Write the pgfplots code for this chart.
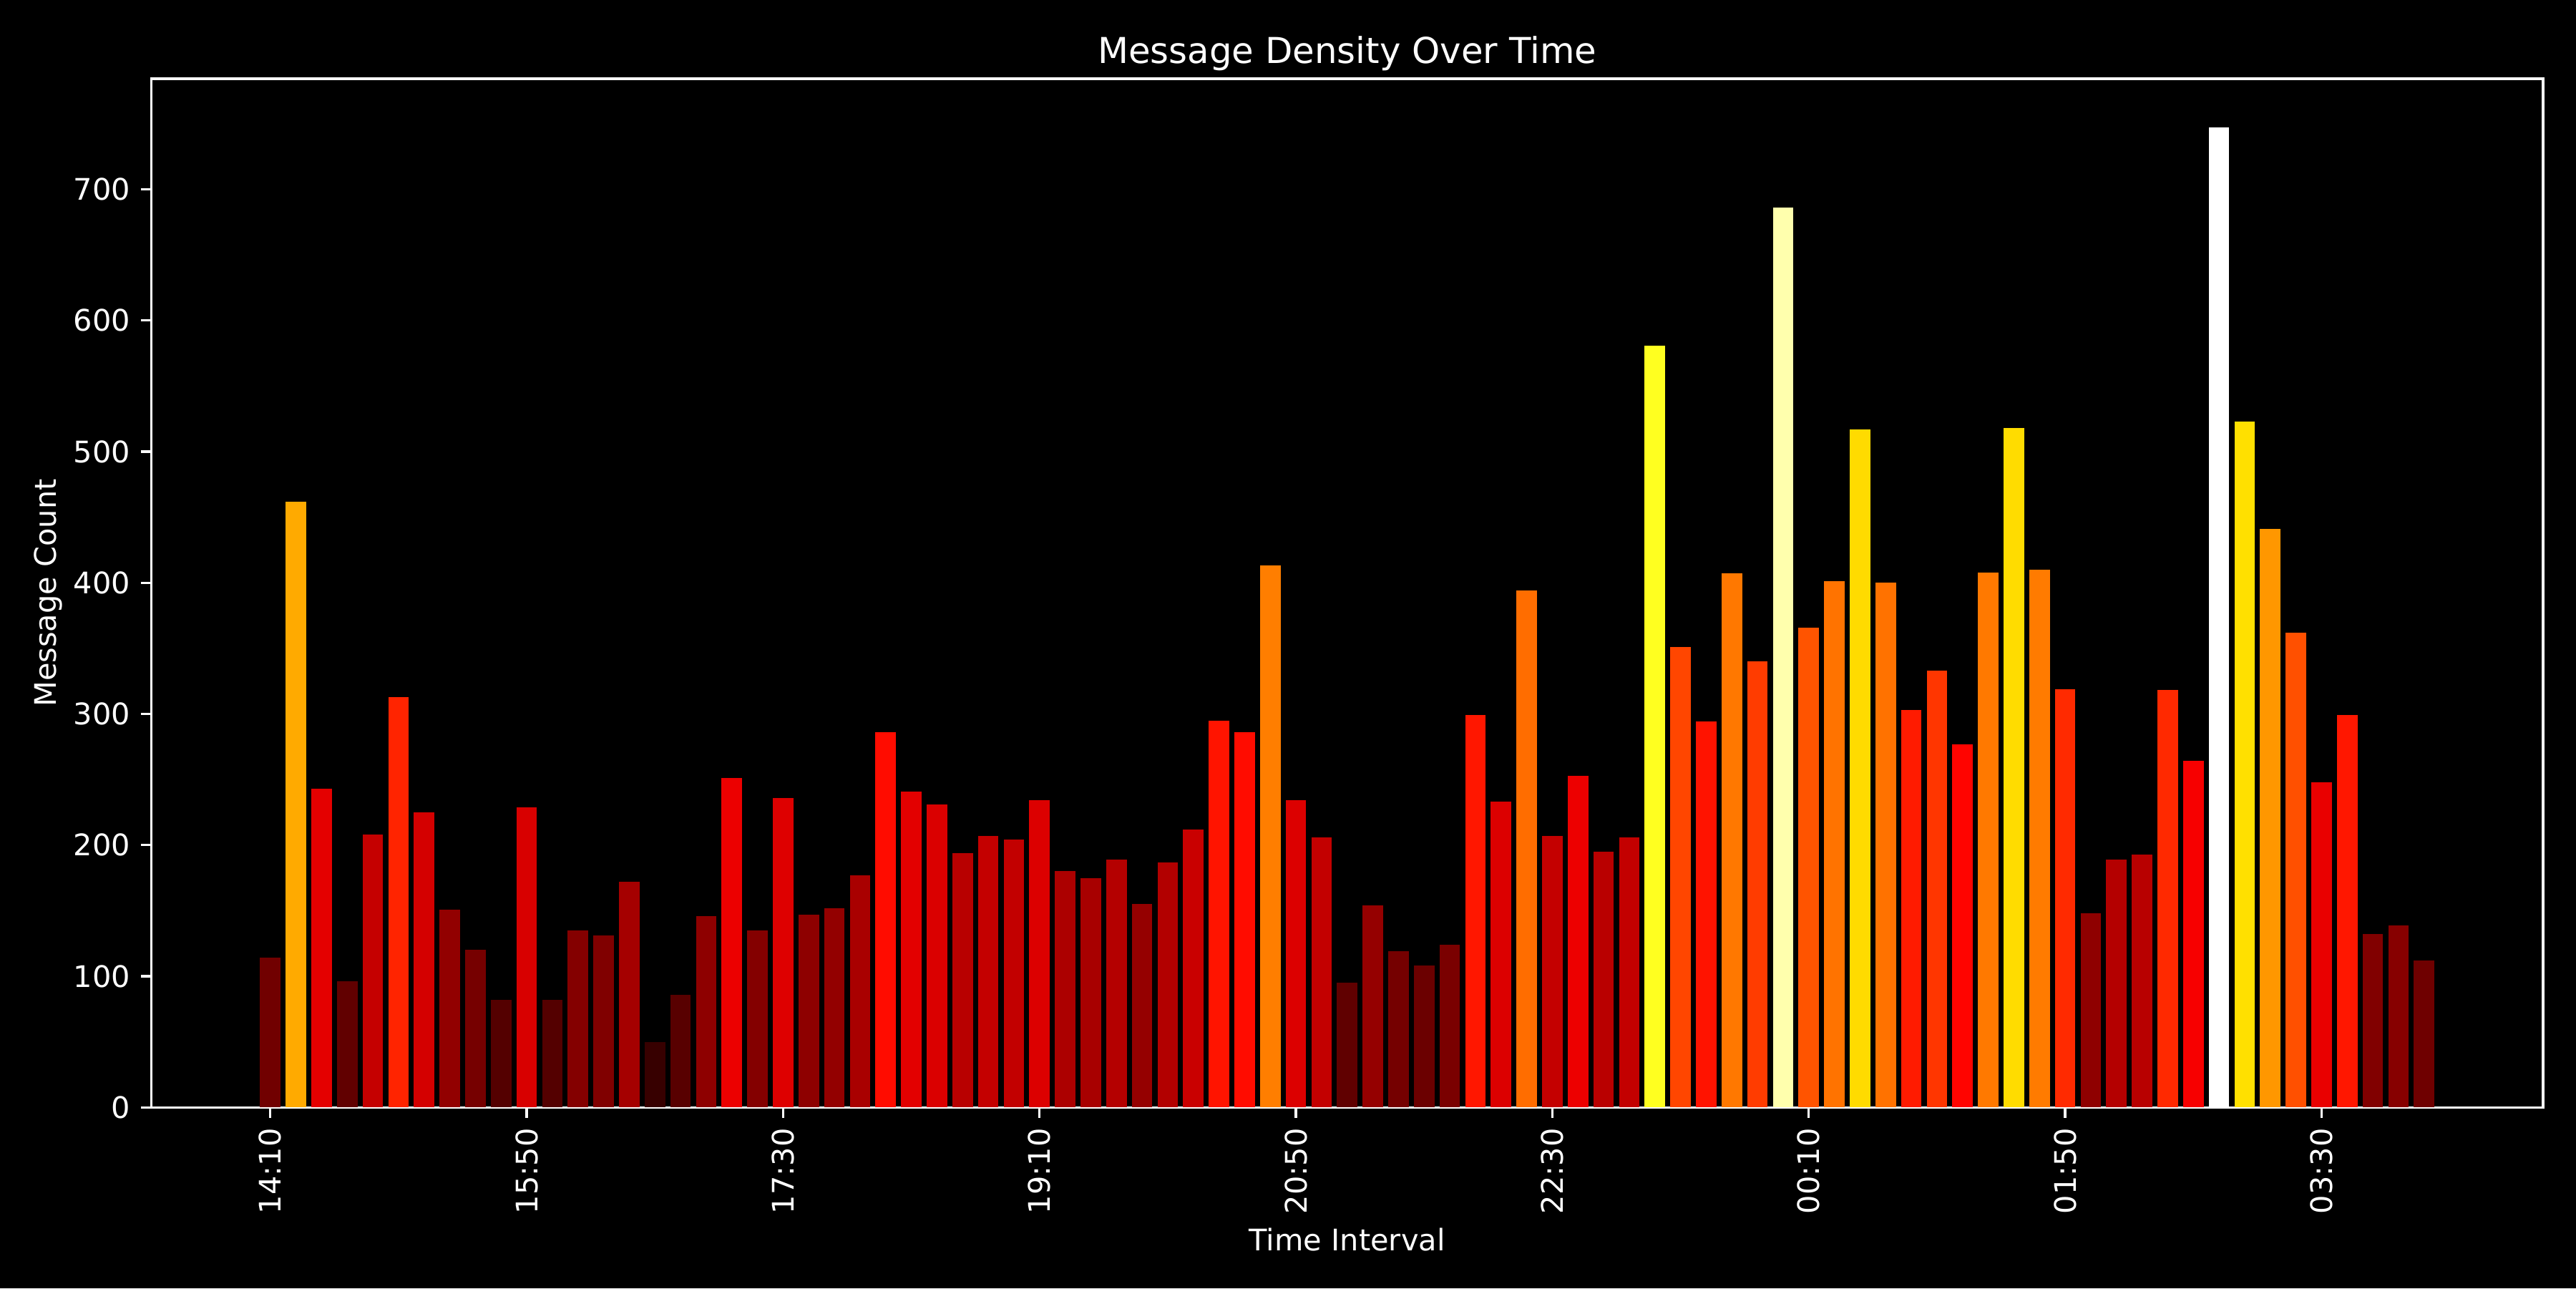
\documentclass[border=0pt]{standalone}
\usepackage{pgfplots}
\pgfplotsset{compat=1.18}
\usepackage{fontspec}
\setmainfont{DejaVu Sans}
% one bar: index, count, and its colour on matplotlib's "hot" map (count/747)
\newcommand{\B}[5]{\addplot[ybar, bar width=0.8, bar shift=0pt, draw=none, fill={rgb,1:red,#3;green,#4;blue,#5}] coordinates {(#1,#2)};}
\begin{document}
\begin{tikzpicture}
\fill[black] (-1.79cm,-2.14cm) rectangle (28.69cm,13.10cm);
\begin{axis}[
  at={(0,0)}, anchor=south west,
  scale only axis, width=28.30cm, height=12.17cm,
  xmin=-4.64, xmax=88.64, ymin=0, ymax=784.35,
  axis line style={white, line width=0.8pt},
  tick style={white, line width=0.8pt},
  major tick length=3.5pt,
  tick align=outside, tick pos=left,
  xtick={0,10,20,30,40,50,60,70,80},
  xticklabels={14:10,15:50,17:30,19:10,20:50,22:30,00:10,01:50,03:30},
  ytick={0,100,200,300,400,500,600,700},
  xticklabel style={rotate=90, anchor=east, font=\fontsize{10}{12}\selectfont, text=white},
  yticklabel style={font=\fontsize{10}{12}\selectfont, text=white},
  /pgf/number format/assume math mode=true,
  xlabel={Time Interval}, ylabel={Message Count},
  xlabel shift=-2pt, ylabel shift=-3pt,
  label style={font=\fontsize{10}{12}\selectfont, text=white},
  title={Message Density Over Time},
  title style={font=\fontsize{12}{14}\selectfont, text=white, yshift=-7pt},
]
\B{0}{114}{0.442}{0}{0}
\B{1}{462}{1}{0.665}{0}
\B{2}{243}{0.896}{0}{0}
\B{3}{96}{0.379}{0}{0}
\B{4}{208}{0.773}{0}{0}
\B{5}{313}{1}{0.142}{0}
\B{6}{225}{0.832}{0}{0}
\B{7}{151}{0.572}{0}{0}
\B{8}{120}{0.463}{0}{0}
\B{9}{82}{0.330}{0}{0}
\B{10}{229}{0.846}{0}{0}
\B{11}{82}{0.330}{0}{0}
\B{12}{135}{0.516}{0}{0}
\B{13}{131}{0.502}{0}{0}
\B{14}{172}{0.646}{0}{0}
\B{15}{50}{0.217}{0}{0}
\B{16}{86}{0.344}{0}{0}
\B{17}{146}{0.555}{0}{0}
\B{18}{251}{0.924}{0}{0}
\B{19}{135}{0.516}{0}{0}
\B{20}{236}{0.871}{0}{0}
\B{21}{147}{0.558}{0}{0}
\B{22}{152}{0.576}{0}{0}
\B{23}{177}{0.664}{0}{0}
\B{24}{286}{1}{0.047}{0}
\B{25}{241}{0.889}{0}{0}
\B{26}{231}{0.853}{0}{0}
\B{27}{194}{0.723}{0}{0}
\B{28}{207}{0.769}{0}{0}
\B{29}{204}{0.759}{0}{0}
\B{30}{234}{0.864}{0}{0}
\B{31}{180}{0.674}{0}{0}
\B{32}{175}{0.657}{0}{0}
\B{33}{189}{0.706}{0}{0}
\B{34}{155}{0.586}{0}{0}
\B{35}{187}{0.699}{0}{0}
\B{36}{212}{0.787}{0}{0}
\B{37}{295}{1}{0.078}{0}
\B{38}{286}{1}{0.047}{0}
\B{39}{413}{1}{0.493}{0}
\B{40}{234}{0.864}{0}{0}
\B{41}{206}{0.766}{0}{0}
\B{42}{95}{0.376}{0}{0}
\B{43}{154}{0.583}{0}{0}
\B{44}{119}{0.460}{0}{0}
\B{45}{108}{0.421}{0}{0}
\B{46}{124}{0.477}{0}{0}
\B{47}{299}{1}{0.092}{0}
\B{48}{233}{0.861}{0}{0}
\B{49}{394}{1}{0.426}{0}
\B{50}{207}{0.769}{0}{0}
\B{51}{253}{0.931}{0}{0}
\B{52}{195}{0.727}{0}{0}
\B{53}{206}{0.766}{0}{0}
\B{54}{581}{1}{1}{0.125}
\B{55}{351}{1}{0.275}{0}
\B{56}{294}{1}{0.075}{0}
\B{57}{407}{1}{0.472}{0}
\B{58}{340}{1}{0.236}{0}
\B{59}{686}{1}{1}{0.678}
\B{60}{366}{1}{0.328}{0}
\B{61}{401}{1}{0.451}{0}
\B{62}{517}{1}{0.858}{0}
\B{63}{400}{1}{0.447}{0}
\B{64}{303}{1}{0.106}{0}
\B{65}{333}{1}{0.212}{0}
\B{66}{277}{1}{0.015}{0}
\B{67}{408}{1}{0.475}{0}
\B{68}{518}{1}{0.862}{0}
\B{69}{410}{1}{0.482}{0}
\B{70}{319}{1}{0.163}{0}
\B{71}{148}{0.562}{0}{0}
\B{72}{189}{0.706}{0}{0}
\B{73}{193}{0.720}{0}{0}
\B{74}{318}{1}{0.159}{0}
\B{75}{264}{0.969}{0}{0}
\B{76}{747}{1}{1}{1}
\B{77}{523}{1}{0.879}{0}
\B{78}{441}{1}{0.591}{0}
\B{79}{362}{1}{0.314}{0}
\B{80}{248}{0.913}{0}{0}
\B{81}{299}{1}{0.092}{0}
\B{82}{132}{0.506}{0}{0}
\B{83}{139}{0.530}{0}{0}
\B{84}{112}{0.435}{0}{0}
\end{axis}
\end{tikzpicture}
\end{document}
